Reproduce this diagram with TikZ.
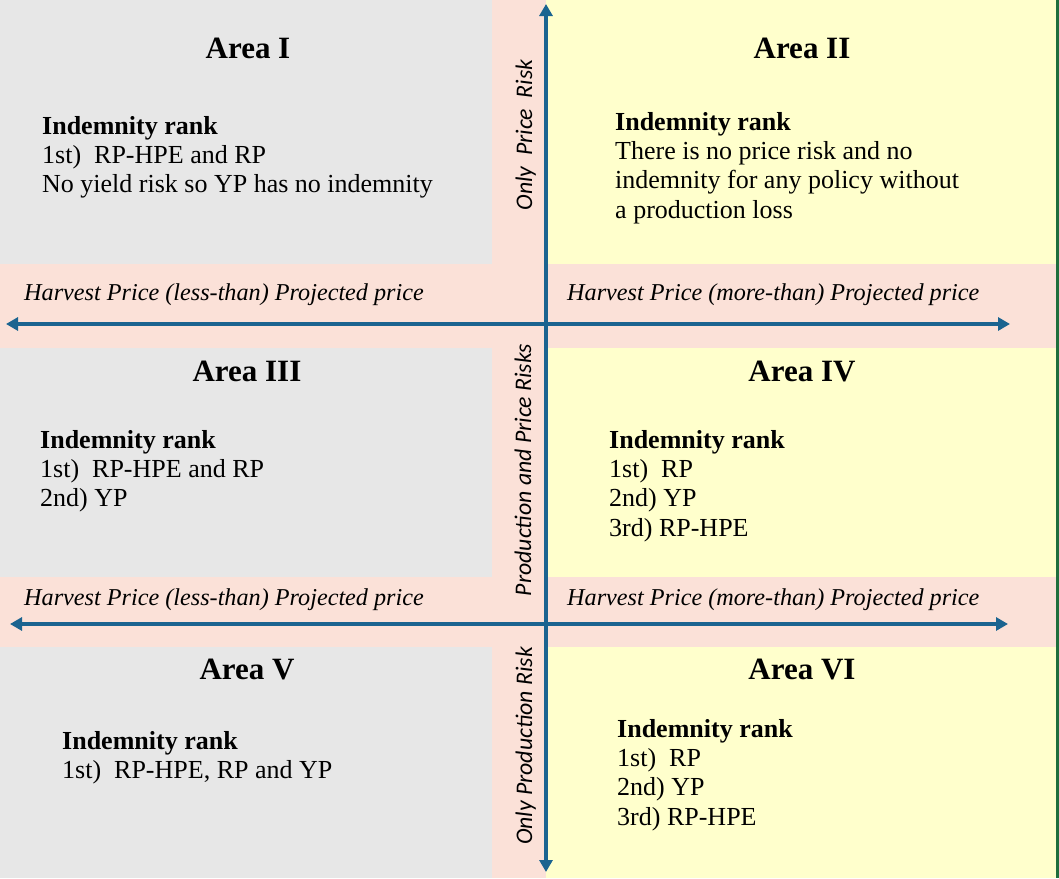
\documentclass[tikz,border=0pt]{standalone}
\usepackage{fontspec}
\setmainfont{Liberation Serif}
\newfontfamily\calfont{Carlito}
\usetikzlibrary{arrows.meta}
\definecolor{areagray}{HTML}{E7E7E7}
\definecolor{bandpink}{HTML}{FBE1D8}
\definecolor{areayellow}{HTML}{FFFFCC}
\definecolor{axisblue}{HTML}{1B6490}
\definecolor{edgegreen}{HTML}{1F6E3C}
\tikzset{
  axis/.style={draw=axisblue, line width=3.5pt, {Triangle[width=13pt,length=12pt]}-{Triangle[width=13pt,length=12pt]}},
  areatitle/.style={anchor=base, inner sep=0pt, font=\fontsize{31}{34}\selectfont\bfseries},
  rankbox/.style={anchor=north west, inner sep=0pt, align=left, font=\fontsize{26}{29.3}\selectfont},
  bandlabel/.style={anchor=base west, inner sep=0pt, font=\fontsize{24.2}{26}\selectfont\itshape},
  risklabel/.style={anchor=base, rotate=90, inner sep=0pt, font=\fontsize{23.8}{26}\selectfont\calfont\itshape},
}
\begin{document}
\begin{tikzpicture}[x=1pt,y=-1pt]
\useasboundingbox (0,0) rectangle (1059,878);
% backgrounds
\fill[areagray] (0,0) rectangle (492,878);
\fill[areayellow] (546,0) rectangle (1056,878);
\fill[bandpink] (492,0) rectangle (546,878);
\fill[bandpink] (0,264) rectangle (1056,348);
\fill[bandpink] (0,577) rectangle (1056,647);
\fill[edgegreen] (1056,0) rectangle (1059,878);
% axis ends
\coordinate (vtop) at (546,4);
\coordinate (vbot) at (546,872);
\coordinate (h1l) at (6,324);
\coordinate (h1r) at (1010,324);
\coordinate (h2l) at (10,624);
\coordinate (h2r) at (1008,624);
\draw[axis] (vbot) -- (vtop);
\draw[axis] (h1l) -- (h1r);
\draw[axis] (h2l) -- (h2r);
% band labels
\node[bandlabel] (b1l) at (24,300) {Harvest Price (less-than) Projected price};
\node[bandlabel] (b1r) at (567,300) {Harvest Price (more-than) Projected price};
\node[bandlabel] (b2l) at (24,605) {Harvest Price (less-than) Projected price};
\node[bandlabel] (b2r) at (567,605) {Harvest Price (more-than) Projected price};
% vertical labels
\node[risklabel] (r1) at (532,135) {Only\hspace{0.45em}Price\hspace{0.45em}Risk};
\node[risklabel] (r2) at (531,470) {Production and Price Risks};
\node[risklabel] (r3) at (532,746) {Only Production Risk};
% titles
\node[areatitle] (t1) at (248,58) {Area I};
\node[areatitle] (t2) at (802,58) {Area II};
\node[areatitle] (t3) at (247,381) {Area III};
\node[areatitle] (t4) at (802,381) {Area IV};
\node[areatitle] (t5) at (247,679) {Area V};
\node[areatitle] (t6) at (802,679) {Area VI};
% indemnity ranks
\node[rankbox] (a1) at (42,116) {\textbf{Indemnity rank}\\1st)\ \ RP-HPE and RP\\No yield risk so YP has no indemnity};
\node[rankbox] (a2) at (615,112) {\textbf{Indemnity rank}\\There is no price risk and no\\indemnity for any policy without\\a production loss};
\node[rankbox] (a3) at (40,430) {\textbf{Indemnity rank}\\1st)\ \ RP-HPE and RP\\2nd) YP};
\node[rankbox] (a4) at (609,430) {\textbf{Indemnity rank}\\1st)\ \ RP\\2nd) YP\\3rd) RP-HPE};
\node[rankbox] (a5) at (62,731) {\textbf{Indemnity rank}\\1st)\ \ RP-HPE, RP and YP};
\node[rankbox] (a6) at (617,719) {\textbf{Indemnity rank}\\1st)\ \ RP\\2nd) YP\\3rd) RP-HPE};
\end{tikzpicture}
\end{document}
